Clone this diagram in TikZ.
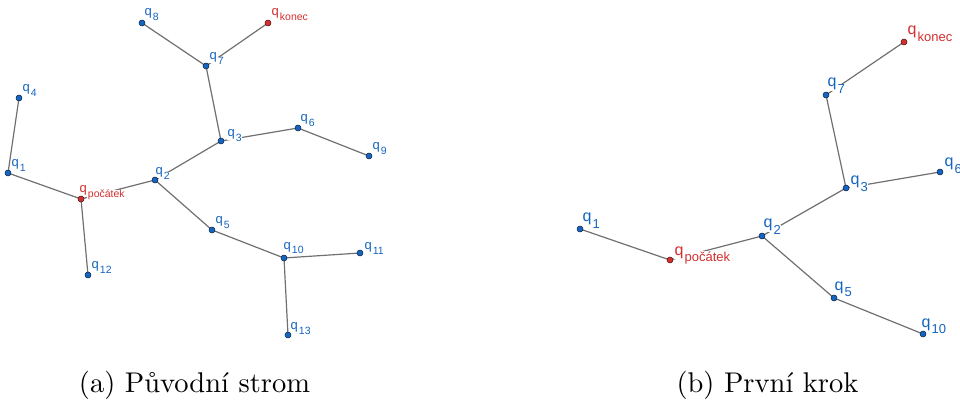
\documentclass[tikz,border=0pt]{standalone}
\usepackage{fontspec}
\usetikzlibrary{calc}
\newfontfamily\labfont{Liberation Sans}
\newfontfamily\capfont{lmroman10-regular.otf}
\definecolor{gblue}{RGB}{21,101,192}
\definecolor{gred}{RGB}{211,47,47}
\definecolor{gedge}{RGB}{112,112,112}
\setlength\fboxsep{0.5pt}
\newcommand\qsmall[1]{{\labfont\fontsize{13}{13}\selectfont\colorbox{white}{q}\raisebox{-5pt}{\fontsize{10.5}{10.5}\selectfont\colorbox{white}{#1}}}}
\newcommand\qbig[1]{{\labfont\fontsize{16}{16}\selectfont\colorbox{white}{q}\raisebox{-6.5pt}{\fontsize{13}{13}\selectfont\colorbox{white}{#1}}}}
\tikzset{
  pt/.style={circle, inner sep=0pt, minimum size=6pt, fill=gblue, draw=black!65!gblue, line width=0.5pt},
  rpt/.style={pt, fill=gred, draw=black!65!gred},
  edge/.style={draw=gedge, line width=1.2pt},
  lbl/.style={anchor=base west, inner sep=0pt, text=gblue},
  rlbl/.style={lbl, text=gred},
  captext/.style={anchor=base, inner sep=0pt}
}
\begin{document}
\begin{tikzpicture}[x=1pt, y=-1pt]
\useasboundingbox (0,0) rectangle (960,403);
% ---------- (a) ----------
\coordinate (a8) at (142,23);
\coordinate (ak) at (268,23);
\coordinate (a7) at (206,66);
\coordinate (a4) at (19,98);
\coordinate (a3) at (221,141);
\coordinate (a6) at (298,128);
\coordinate (a1) at (8,173);
\coordinate (a2) at (155,180);
\coordinate (ap) at (81,199);
\coordinate (a9) at (369,156);
\coordinate (a5) at (212,230);
\coordinate (a10) at (284,258);
\coordinate (a11) at (360,253);
\coordinate (a12) at (88,275);
\coordinate (a13) at (288,335);
\draw[edge] (a8) -- (a7);
\draw[edge] (a7) -- (ak);
\draw[edge] (a7) -- (a3);
\draw[edge] (a4) -- (a1);
\draw[edge] (a3) -- (a6);
\draw[edge] (a3) -- (a2);
\draw[edge] (a6) -- (a9);
\draw[edge] (a1) -- (ap);
\draw[edge] (ap) -- (a2);
\draw[edge] (ap) -- (a12);
\draw[edge] (a2) -- (a5);
\draw[edge] (a5) -- (a10);
\draw[edge] (a10) -- (a11);
\draw[edge] (a10) -- (a13);
\node[lbl] (la8) at ($(a8)+(2,-7)$) {\qsmall{8}};
\node[rlbl] (lak) at ($(ak)+(3,-7)$) {\qsmall{konec}};
\node[lbl] (la7) at ($(a7)+(3,-6)$) {\qsmall{7}};
\node[lbl] (la4) at ($(a4)+(3,-6)$) {\qsmall{4}};
\node[lbl] (la3) at ($(a3)+(6,-4)$) {\qsmall{3}};
\node[lbl] (la6) at ($(a6)+(2,-6)$) {\qsmall{6}};
\node[lbl] (la1) at ($(a1)+(3,-6)$) {\qsmall{1}};
\node[lbl] (la2) at ($(a2)+(0,-5)$) {\qsmall{2}};
\node[rlbl] (lap) at ($(ap)+(-2,-6)$) {\qsmall{počátek}};
\node[lbl] (la9) at ($(a9)+(3,-6)$) {\qsmall{9}};
\node[lbl] (la5) at ($(a5)+(3,-6)$) {\qsmall{5}};
\node[lbl] (la10) at ($(a10)+(-1,-9)$) {\qsmall{10}};
\node[lbl] (la11) at ($(a11)+(4,-3)$) {\qsmall{11}};
\node[lbl] (la12) at ($(a12)+(3,-6)$) {\qsmall{12}};
\node[lbl] (la13) at ($(a13)+(2,-6)$) {\qsmall{13}};
\foreach \n in {a8,a7,a4,a3,a6,a1,a2,a9,a5,a10,a11,a12,a13}
  \node[pt] (d\n) at (\n) {};
\node[rpt] (dak) at (ak) {};
\node[rpt] (dap) at (ap) {};
% ---------- (b) ----------
\coordinate (bk) at (904,42);
\coordinate (b7) at (826,95);
\coordinate (b6) at (940,172);
\coordinate (b3) at (846,188);
\coordinate (b1) at (580,229);
\coordinate (b2) at (762,236);
\coordinate (bp) at (670,260);
\coordinate (b5) at (834,298);
\coordinate (b10) at (923,334);
\draw[edge] (bk) -- (b7);
\draw[edge] (b7) -- (b3);
\draw[edge] (b3) -- (b6);
\draw[edge] (b3) -- (b2);
\draw[edge] (b2) -- (bp);
\draw[edge] (bp) -- (b1);
\draw[edge] (b2) -- (b5);
\draw[edge] (b5) -- (b10);
\node[rlbl] (lbk) at ($(bk)+(3,-7)$) {\qbig{konec}};
\node[lbl] (lb7) at ($(b7)+(1,-8)$) {\qbig{7}};
\node[lbl] (lb6) at ($(b6)+(4,-5)$) {\qbig{6}};
\node[lbl] (lb3) at ($(b3)+(4,-3)$) {\qbig{3}};
\node[lbl] (lb1) at ($(b1)+(2,-7)$) {\qbig{1}};
\node[lbl] (lb2) at ($(b2)+(1,-8)$) {\qbig{2}};
\node[rlbl] (lbp) at ($(bp)+(4,-5)$) {\qbig{počátek}};
\node[lbl] (lb5) at ($(b5)+(0,-8)$) {\qbig{5}};
\node[lbl] (lb10) at ($(b10)+(-2,-7)$) {\qbig{10}};
\foreach \n in {b7,b6,b3,b1,b2,b5,b10}
  \node[pt] (d\n) at (\n) {};
\node[rpt] (dbk) at (bk) {};
\node[rpt] (dbp) at (bp) {};
% ---------- captions ----------
\node[captext] (capa) at (194.5,392) {\capfont\fontsize{28.5}{32}\selectfont (a) Původní strom};
\node[captext] (capb) at (767.5,392) {\capfont\fontsize{28.5}{32}\selectfont (b) První krok};
\end{tikzpicture}
\end{document}
